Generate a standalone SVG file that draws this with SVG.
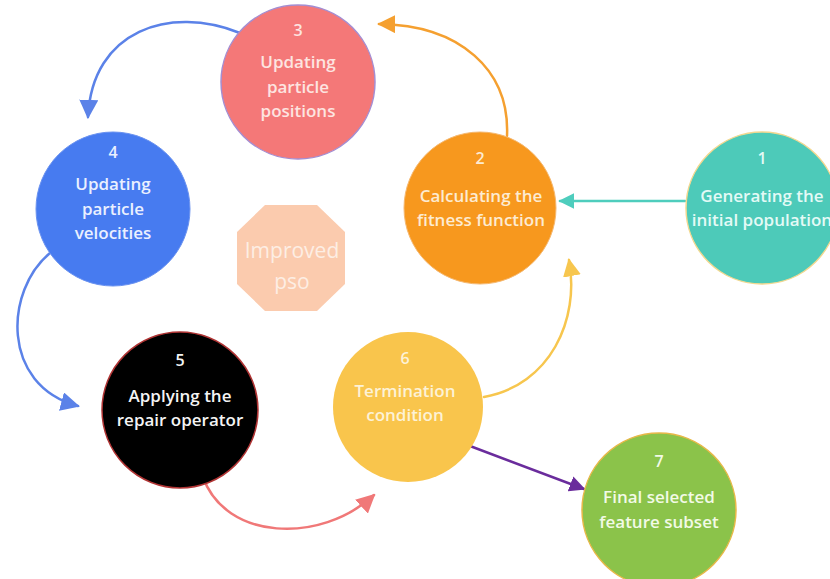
<svg xmlns="http://www.w3.org/2000/svg" width="830" height="579" viewBox="0 0 830 579">
  <defs>
    <style>
      .lbl { font-family: "Open Sans", Lato, "Liberation Sans", sans-serif; font-size: 17px; font-weight: 600; text-anchor: middle; }
      .num { font-size: 16px; }
      .badge { font-family: "Open Sans", Lato, "Liberation Sans", sans-serif; font-size: 21px; text-anchor: middle; fill: #FDEEE4; }
      .link { fill: none; stroke-width: 2.5; stroke-linecap: round; }
    </style>
    <marker id="ahTeal" viewBox="0 0 10 10" refX="9" refY="5" markerUnits="userSpaceOnUse" markerWidth="16" markerHeight="16" orient="auto">
      <path d="M0,0 L10,5 L0,10 z" fill="#4ECDBD"/>
    </marker>
    <marker id="ahOrange" viewBox="0 0 10 10" refX="9" refY="5" markerUnits="userSpaceOnUse" markerWidth="18" markerHeight="18" orient="auto">
      <path d="M0,0 L10,5 L0,10 z" fill="#F5A030"/>
    </marker>
    <marker id="ahBlue" viewBox="0 0 10 10" refX="9" refY="5" markerUnits="userSpaceOnUse" markerWidth="19" markerHeight="19" orient="auto">
      <path d="M0,0 L10,5 L0,10 z" fill="#5B82E8"/>
    </marker>
    <marker id="ahPink" viewBox="0 0 10 10" refX="9" refY="5" markerUnits="userSpaceOnUse" markerWidth="19" markerHeight="19" orient="auto">
      <path d="M0,0 L10,5 L0,10 z" fill="#F07878"/>
    </marker>
    <marker id="ahYellow" viewBox="0 0 10 10" refX="9" refY="5" markerUnits="userSpaceOnUse" markerWidth="18" markerHeight="18" orient="auto">
      <path d="M0,0 L10,5 L0,10 z" fill="#F7C64E"/>
    </marker>
    <marker id="ahPurple" viewBox="0 0 10 10" refX="9" refY="5" markerUnits="userSpaceOnUse" markerWidth="16" markerHeight="16" orient="auto">
      <path d="M0,0 L10,5 L0,10 z" fill="#6A2C9C"/>
    </marker>
  </defs>

  <rect width="830" height="579" fill="#FFFFFF"/>

  <!-- connectors between the process steps -->
  <g id="connectors">
    <path class="link" d="M685,201 L560,201" stroke="#4ECDBD" marker-end="url(#ahTeal)"/>
    <path class="link" d="M507,136 C510,70 460,25 379,24" stroke="#F5A030" marker-end="url(#ahOrange)"/>
    <path class="link" d="M240,33 C170,5 92,30 88,117" stroke="#5B82E8" marker-end="url(#ahBlue)"/>
    <path class="link" d="M50,253 C5,290 0,385 78,406" stroke="#5B82E8" marker-end="url(#ahBlue)"/>
    <path class="link" d="M203,477 C225,540 320,545 374,495" stroke="#F07878" marker-end="url(#ahPink)"/>
    <path class="link" d="M484,397 C550,385 580,320 569,260" stroke="#F7C64E" marker-end="url(#ahYellow)"/>
    <path class="link" d="M470,446 L584,489" stroke="#6A2C9C" marker-end="url(#ahPurple)"/>
  </g>

  <!-- centre badge -->
  <g id="improved-pso">
    <polygon points="265,205 317,205 345,232 345,284 317,311 265,311 237,284 237,232" fill="#FBCBAE"/>
    <text class="badge" x="292" y="258">Improved</text>
    <text class="badge" x="292" y="289">pso</text>
  </g>

  <!-- step 1 -->
  <g id="step1">
    <circle cx="762" cy="208" r="76" fill="#4DCAB9" stroke="#F2D890" stroke-width="1.5"/>
    <text class="lbl num" x="762" y="164" fill="#E4FAF6">1</text>
    <text class="lbl" x="762" y="202" fill="#E4FAF6">Generating the</text>
    <text class="lbl" x="762" y="226" fill="#E4FAF6">initial population</text>
  </g>

  <!-- step 2 -->
  <g id="step2">
    <circle cx="480" cy="208" r="76" fill="#F7981E" stroke="#F5B870" stroke-width="1"/>
    <text class="lbl num" x="480" y="164" fill="#FDEBD2">2</text>
    <text class="lbl" x="481" y="202" fill="#FDEBD2">Calculating the</text>
    <text class="lbl" x="481" y="226" fill="#FDEBD2">fitness function</text>
  </g>

  <!-- step 3 -->
  <g id="step3">
    <circle cx="298" cy="82" r="77" fill="#F47878" stroke="#A48ED2" stroke-width="1.5"/>
    <text class="lbl num" x="298" y="36" fill="#FDE4E0">3</text>
    <text class="lbl" x="298" y="68" fill="#FDE4E0">Updating</text>
    <text class="lbl" x="298" y="93" fill="#FDE4E0">particle</text>
    <text class="lbl" x="298" y="117" fill="#FDE4E0">positions</text>
  </g>

  <!-- step 4 -->
  <g id="step4">
    <circle cx="113" cy="209" r="77" fill="#477BF0" stroke="#6A92F0" stroke-width="1"/>
    <text class="lbl num" x="113" y="158" fill="#EAF0FF">4</text>
    <text class="lbl" x="113" y="190" fill="#EAF0FF">Updating</text>
    <text class="lbl" x="113" y="215" fill="#EAF0FF">particle</text>
    <text class="lbl" x="113" y="239" fill="#EAF0FF">velocities</text>
  </g>

  <!-- step 5 -->
  <g id="step5">
    <circle cx="180" cy="410" r="78" fill="#000000" stroke="#B03434" stroke-width="1.5"/>
    <text class="lbl num" x="180" y="366" fill="#F4F4F4">5</text>
    <text class="lbl" x="180" y="402" fill="#F4F4F4">Applying the</text>
    <text class="lbl" x="180" y="426" fill="#F4F4F4">repair operator</text>
  </g>

  <!-- step 6 -->
  <g id="step6">
    <circle cx="408" cy="407" r="75" fill="#F9C54C"/>
    <text class="lbl num" x="405" y="364" fill="#FDF2D6">6</text>
    <text class="lbl" x="405" y="397" fill="#FDF2D6">Termination</text>
    <text class="lbl" x="405" y="421" fill="#FDF2D6">condition</text>
  </g>

  <!-- step 7 -->
  <g id="step7">
    <circle cx="659" cy="510" r="77" fill="#8BC34A" stroke="#E8B848" stroke-width="1.5"/>
    <text class="lbl num" x="659" y="467" fill="#F2FAE6">7</text>
    <text class="lbl" x="659" y="503" fill="#F2FAE6">Final selected</text>
    <text class="lbl" x="659" y="528" fill="#F2FAE6">feature subset</text>
  </g>
</svg>
